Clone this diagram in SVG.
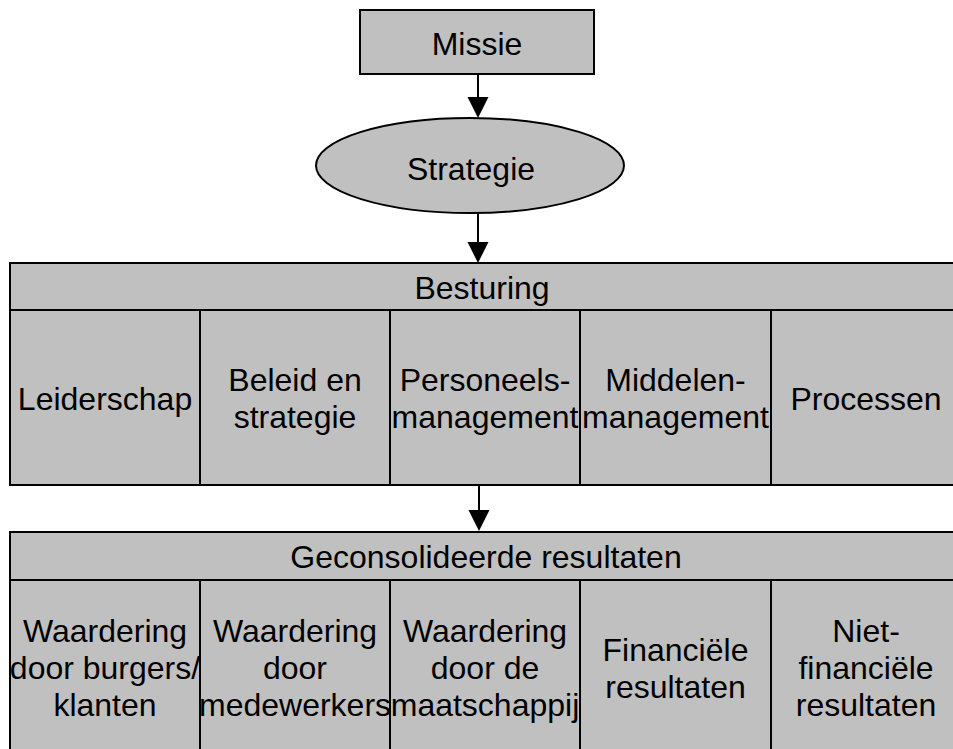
<svg xmlns="http://www.w3.org/2000/svg" width="953" height="749" viewBox="0 0 953 749">
<style>
.box{fill:#C0C0C0;stroke:#000;stroke-width:2}
.t{font-family:"Liberation Sans",Arial,sans-serif;font-size:32px;fill:#000;text-anchor:middle}
.ln{stroke:#000;stroke-width:2;fill:none}
.ah{fill:#000}
</style>
<rect width="953" height="749" fill="#fff"/>
<g id="missie">
<rect class="box" x="360" y="10" width="234" height="64"/>
<text class="t" x="477" y="55">Missie</text>
</g>
<g id="strategie">
<ellipse class="box" cx="470" cy="165.5" rx="154" ry="47.5"/>
<text class="t" x="471" y="180">Strategie</text>
</g>
<g id="besturing">
<rect class="box" x="10" y="263" width="951" height="47"/>
<text class="t" x="482" y="299">Besturing</text>
</g>
<g id="leiderschap">
<rect class="box" x="10" y="310" width="190" height="175"/>
<text class="t" x="105" y="410">Leiderschap</text>
</g>
<g id="beleid">
<rect class="box" x="200" y="310" width="190" height="175"/>
<text class="t" x="295" y="391">Beleid en</text>
<text class="t" x="295" y="428">strategie</text>
</g>
<g id="personeelsmanagement">
<rect class="box" x="390" y="310" width="190" height="175"/>
<text class="t" x="485" y="391">Personeels-</text>
<text class="t" x="485" y="428">management</text>
</g>
<g id="middelenmanagement">
<rect class="box" x="580" y="310" width="191" height="175"/>
<text class="t" x="675.5" y="391">Middelen-</text>
<text class="t" x="675.5" y="428">management</text>
</g>
<g id="processen">
<rect class="box" x="771" y="310" width="190" height="175"/>
<text class="t" x="866" y="410">Processen</text>
</g>
<g id="geconsolideerde">
<rect class="box" x="10" y="532" width="951" height="48"/>
<text class="t" x="486" y="568">Geconsolideerde resultaten</text>
</g>
<g id="burgers">
<rect class="box" x="10" y="580" width="190" height="175"/>
<text class="t" x="105" y="642">Waardering</text>
<text class="t" x="105" y="679">door burgers/</text>
<text class="t" x="105" y="716">klanten</text>
</g>
<g id="medewerkers">
<rect class="box" x="200" y="580" width="190" height="175"/>
<text class="t" x="295" y="642">Waardering</text>
<text class="t" x="295" y="679">door</text>
<text class="t" x="295" y="716">medewerkers</text>
</g>
<g id="maatschappij">
<rect class="box" x="390" y="580" width="190" height="175"/>
<text class="t" x="485" y="642">Waardering</text>
<text class="t" x="485" y="679">door de</text>
<text class="t" x="485" y="716">maatschappij</text>
</g>
<g id="financieel">
<rect class="box" x="580" y="580" width="191" height="175"/>
<text class="t" x="675.5" y="661">Financiële</text>
<text class="t" x="675.5" y="698">resultaten</text>
</g>
<g id="nietfinancieel">
<rect class="box" x="771" y="580" width="190" height="175"/>
<text class="t" x="866" y="642">Niet-</text>
<text class="t" x="866" y="679">financiële</text>
<text class="t" x="866" y="716">resultaten</text>
</g>
<g id="connectors">
<line class="ln" x1="478" y1="74" x2="478" y2="98"/>
<polygon class="ah" points="467.5,97 488.5,97 478,118"/>
<line class="ln" x1="478" y1="213" x2="478" y2="243"/>
<polygon class="ah" points="467.5,242 488.5,242 478,263"/>
<line class="ln" x1="479" y1="485" x2="479" y2="511"/>
<polygon class="ah" points="468.5,510 489.5,510 479,531"/>
</g>
</svg>
